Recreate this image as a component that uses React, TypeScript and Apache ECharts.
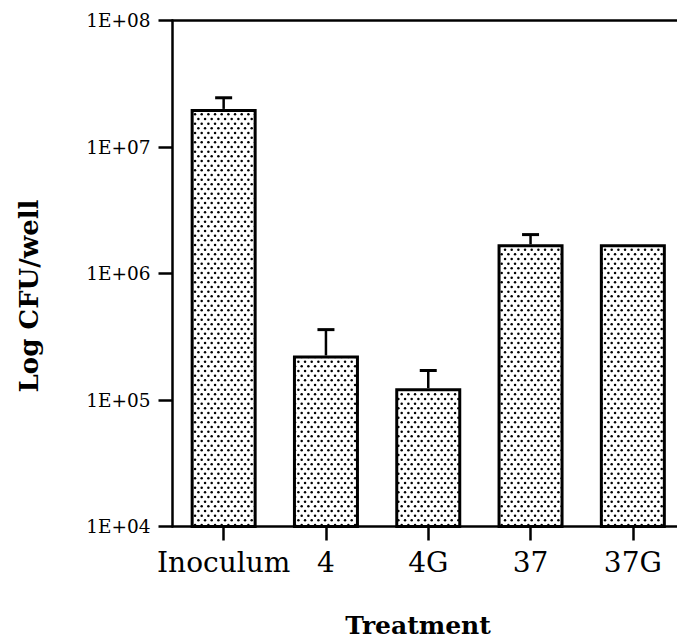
import React, { useEffect, useRef } from "react";
import * as echarts from "echarts";

// Treatment groups and their viable counts (CFU per well)
const categories: string[] = ["Inoculum", "4", "4G", "37", "37G"];
const cfuMeans: number[] = [2.0e7, 2.25e5, 1.24e5, 1.7e6, 1.7e6];
// Upper end of the error bar for each group (null = no error bar)
const cfuUpper: (number | null)[] = [2.45e7, 3.6e5, 1.71e5, 2.03e6, null];
// Decade ticks of the log axis
const yMin = 1e4;
const yMax = 1e8;

const FONT = "DejaVu Serif";

// Stippled fill used for the bars
function makeDotPattern(): HTMLCanvasElement {
  const c = document.createElement("canvas");
  c.width = 20;
  c.height = 28;
  const ctx = c.getContext("2d")!;
  ctx.fillStyle = "#ffffff";
  ctx.fillRect(0, 0, c.width, c.height);
  ctx.fillStyle = "#000000";
  for (let i = 0; i < 6; i++) {
    const y = 2.3 + i * (28 / 6);
    for (let j = 0; j < 3; j++) {
      const x = 1.7 + j * (20 / 3) + (i % 2) * (10 / 3);
      ctx.beginPath();
      ctx.arc(x % 20, y, 1.25, 0, Math.PI * 2);
      ctx.fill();
    }
  }
  return c;
}

export default function App() {
  const ref = useRef<HTMLDivElement>(null);

  useEffect(() => {
    if (!ref.current) return;
    const chart = echarts.init(ref.current, undefined, { renderer: "svg" });

    const errData = cfuUpper
      .map((hi, i) => (hi == null ? null : [i, cfuMeans[i], hi]))
      .filter((d) => d !== null) as number[][];

    const pattern = makeDotPattern();

    chart.setOption({
      animation: false,
      backgroundColor: "#ffffff",
      grid: { left: 172.5, top: 20.5, width: 511.5, height: 506, containLabel: false },
      xAxis: [
        {
          type: "category",
          data: categories,
          position: "bottom",
          axisLine: { show: true, lineStyle: { color: "#000", width: 2.5 } },
          axisTick: { show: true, alignWithLabel: true, interval: 0, length: 14, lineStyle: { color: "#000", width: 2.5 } },
          axisLabel: { fontFamily: FONT, fontSize: 28, color: "#000", margin: 22, interval: 0, hideOverlap: false },
          splitLine: { show: false },
        },
        {
          type: "category",
          data: categories,
          position: "top",
          axisLine: { show: true, lineStyle: { color: "#000", width: 2.5 } },
          axisTick: { show: false },
          axisLabel: { show: false },
          splitLine: { show: false },
        },
      ],
      yAxis: {
        type: "log",
        logBase: 10,
        min: yMin,
        max: yMax,
        axisLine: { show: true, onZero: false, lineStyle: { color: "#000", width: 2.5 } },
        axisTick: { show: true, length: 14, lineStyle: { color: "#000", width: 2.5 } },
        axisLabel: {
          fontFamily: FONT,
          fontSize: 18.5,
          color: "#000",
          margin: 22,
          formatter: (v: number) => {
            const e = Math.round(Math.log10(v));
            return "1E+" + (e < 10 ? "0" + e : String(e));
          },
        },
        splitLine: { show: false },
        minorTick: { show: false },
      },
      graphic: [
        {
          type: "text",
          x: 29,
          y: 296,
          rotation: Math.PI / 2,
          style: {
            text: "Log CFU/well",
            fontFamily: FONT,
            fontWeight: "bold",
            fontSize: 26,
            fill: "#000",
            align: "center",
            verticalAlign: "middle",
          },
        },
        {
          type: "text",
          x: 418,
          y: 625,
          style: {
            text: "Treatment",
            fontFamily: FONT,
            fontWeight: "bold",
            fontSize: 25,
            fill: "#000",
            align: "center",
            verticalAlign: "middle",
          },
        },
      ],
      series: [
        {
          type: "bar",
          data: cfuMeans,
          barWidth: 66,
          itemStyle: {
            color: { image: pattern, repeat: "repeat" },
            borderColor: "#000",
            borderWidth: 3,
          },
          z: 2,
        },
        {
          type: "custom",
          data: errData,
          encode: { x: 0, y: [1, 2] },
          z: 3,
          renderItem: (_params: any, api: any) => {
            const idx = api.value(0);
            const lo = api.coord([idx, api.value(1)]);
            const hi = api.coord([idx, api.value(2)]);
            return {
              type: "group",
              children: [
                {
                  type: "line",
                  shape: { x1: lo[0], y1: lo[1], x2: lo[0], y2: hi[1] },
                  style: { stroke: "#000", lineWidth: 2.5 },
                },
                {
                  type: "line",
                  shape: { x1: lo[0] - 8.5, y1: hi[1], x2: lo[0] + 8.5, y2: hi[1] },
                  style: { stroke: "#000", lineWidth: 3 },
                },
              ],
            };
          },
        },
      ],
    });

    return () => chart.dispose();
  }, []);

  return (
    <div
      style={{
        position: "fixed",
        left: 0,
        top: 0,
        width: 677,
        height: 640,
        overflow: "hidden",
        background: "#fff",
      }}
    >
      <div ref={ref} style={{ width: 700, height: 640 }} />
    </div>
  );
}
